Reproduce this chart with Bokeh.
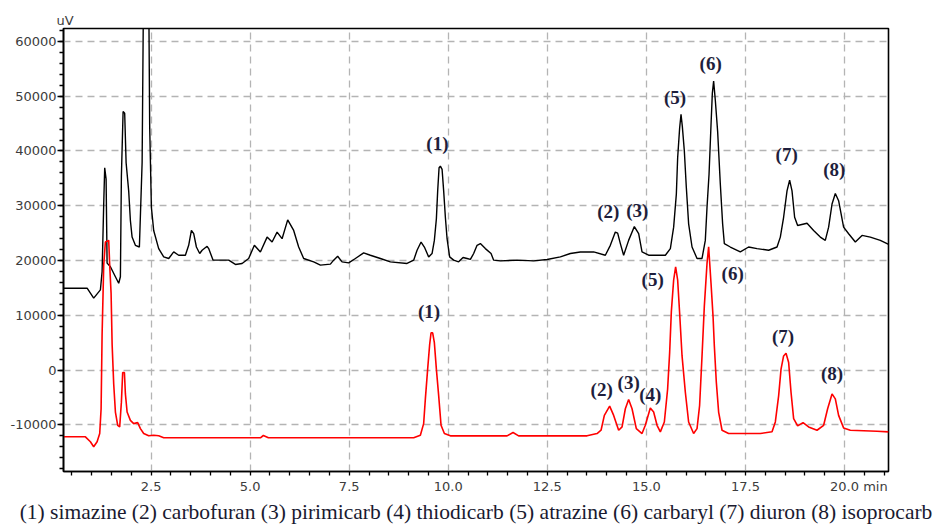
import numpy as np
from bokeh.plotting import figure
from bokeh.models import (Range1d, SingleIntervalTicker, FixedTicker, PrintfTickFormatter,
                          Title, ColumnDataSource)
from bokeh.core.properties import value
from bokeh.embed import file_html
from bokeh.resources import INLINE

# ---------------- data (retention time in min, signal in uV) ----------------
black_time = [
    0.30, 0.886, 1.052, 1.221, 1.264, 1.305, 1.330, 1.365, 1.390, 1.474,
    1.600, 1.683, 1.726, 1.751, 1.794, 1.834, 1.870, 1.935, 1.978, 2.021,
    2.104, 2.205, 2.274, 2.31, 2.38, 2.44, 2.465, 2.508, 2.566, 2.692,
    2.819, 2.945, 3.071, 3.197, 3.366, 3.449, 3.518, 3.576, 3.644, 3.727,
    3.788, 3.914, 3.954, 4.065, 4.206, 4.459, 4.628, 4.797, 4.963, 5.107,
    5.259, 5.428, 5.554, 5.680, 5.806, 5.948, 6.099, 6.225, 6.351, 6.604,
    6.773, 7.025, 7.108, 7.209, 7.320, 7.487, 7.656, 7.865, 8.034, 8.287,
    8.539, 8.960, 9.127, 9.213, 9.314, 9.397, 9.505, 9.591, 9.649, 9.700,
    9.733, 9.768, 9.801, 9.844, 9.884, 9.927, 9.970, 10.035, 10.136, 10.262,
    10.373, 10.474, 10.558, 10.641, 10.727, 10.810, 10.936, 11.080, 11.146, 11.315,
    11.736, 12.155, 12.493, 12.829, 13.081, 13.333, 13.669, 13.964, 14.090, 14.216,
    14.275, 14.343, 14.426, 14.552, 14.696, 14.805, 14.890, 15.057, 15.269, 15.479,
    15.605, 15.688, 15.756, 15.789, 15.839, 15.874, 15.907, 15.958, 16.008, 16.066,
    16.152, 16.278, 16.404, 16.487, 16.530, 16.581, 16.631, 16.664, 16.697, 16.739,
    16.798, 16.866, 16.924, 16.967, 17.118, 17.370, 17.580, 17.792, 18.085, 18.297,
    18.380, 18.463, 18.549, 18.615, 18.675, 18.741, 18.817, 19.054, 19.220, 19.389,
    19.515, 19.599, 19.685, 19.768, 19.851, 19.977, 20.104, 20.273, 20.442, 20.651,
    20.903, 21.113,
]
black_uv = [
    14950, 14950, 13140, 14650, 17950, 30370, 36940, 34890, 19530, 18860,
    17050, 15860, 17050, 35440, 47190, 46880, 37840, 32720, 27300, 24280,
    22780, 22470, 37840, 70000, 80000, 70000, 44480, 29700, 25490, 22180,
    20670, 20380, 21570, 20970, 20970, 22780, 25490, 24900, 22470, 21280,
    21880, 22600, 22180, 20070, 20070, 20070, 19290, 19470, 20380, 22780,
    21570, 24280, 23380, 25190, 23990, 27430, 25490, 22470, 20380, 19760,
    19160, 19350, 20070, 20790, 19760, 19580, 20380, 21390, 20970, 20380,
    19760, 19470, 20070, 21880, 23380, 22470, 20670, 21280, 23680, 27610,
    32720, 36940, 37240, 36650, 32720, 27900, 23990, 20670, 20070, 19760,
    20560, 20380, 20200, 21280, 22780, 23090, 22180, 21280, 20070, 19940,
    20070, 19940, 20200, 20670, 21280, 21570, 21570, 20970, 22780, 25190,
    25000, 23090, 20970, 23680, 26210, 24900, 21570, 20970, 20970, 20970,
    22180, 26090, 32130, 38750, 44170, 46700, 44480, 39960, 33320, 26700,
    22470, 20380, 20380, 23680, 29700, 35740, 44780, 50500, 52740, 49300,
    43570, 33940, 26700, 23090, 22470, 21570, 22470, 22180, 21880, 22470,
    24280, 27900, 32720, 34660, 32720, 27900, 26400, 26810, 25490, 24280,
    23680, 26090, 30320, 32240, 30920, 26090, 24900, 23380, 24590, 24280,
    23680, 22960,
]

red_time = [
    0.30, 0.843, 0.969, 1.052, 1.138, 1.204, 1.239, 1.264, 1.305, 1.347,
    1.431, 1.456, 1.491, 1.517, 1.557, 1.600, 1.658, 1.708, 1.751, 1.784,
    1.827, 1.852, 1.895, 1.978, 2.062, 2.162, 2.231, 2.314, 2.440, 2.566,
    2.692, 2.819, 5.259, 5.334, 5.461, 9.127, 9.296, 9.379, 9.422, 9.480,
    9.531, 9.566, 9.606, 9.649, 9.700, 9.758, 9.818, 9.902, 10.053, 11.484,
    11.635, 11.776, 13.503, 13.755, 13.856, 13.939, 14.073, 14.174, 14.300, 14.386,
    14.469, 14.552, 14.638, 14.746, 14.890, 14.973, 15.099, 15.183, 15.269, 15.352,
    15.453, 15.536, 15.587, 15.630, 15.688, 15.738, 15.789, 15.839, 15.900, 15.983,
    16.066, 16.192, 16.278, 16.343, 16.404, 16.462, 16.530, 16.571, 16.631, 16.682,
    16.715, 16.765, 16.823, 16.909, 17.075, 17.876, 18.171, 18.254, 18.338, 18.398,
    18.463, 18.524, 18.590, 18.650, 18.716, 18.817, 18.953, 19.094, 19.306, 19.473,
    19.574, 19.685, 19.768, 19.851, 19.977, 20.146, 20.820, 21.113,
]
red_uv = [
    -12170, -12170, -13070, -13980, -13070, -11570, -7050, 6510, 19160, 23380,
    23680, 19160, 14050, 4700, -2530, -7650, -10070, -10360, -5840, -420,
    -420, -4340, -7650, -9170, -9760, -9580, -10670, -11570, -11990, -11880,
    -11990, -12350, -12350, -11930, -12350, -12350, -11880, -9760, -5240, 180,
    4700, 6820, 6820, 5010, 180, -4650, -10070, -11570, -11990, -11990,
    -11390, -11990, -11990, -11570, -10970, -8260, -6560, -8260, -10970, -10360,
    -7050, -5370, -7050, -10670, -11570, -10070, -6920, -7650, -10070, -11260,
    -9460, -3440, 3200, 10720, 16450, 18860, 16450, 10430, 2590, -4030,
    -9460, -11570, -10670, -6450, 2590, 11630, 19470, 22510, 15860, 9820,
    4390, -2220, -7650, -10970, -11570, -11570, -11260, -9460, -4650, 180,
    2590, 3070, 1390, -4030, -8860, -10180, -9580, -10360, -10970, -10070,
    -7050, -4340, -5240, -8260, -10540, -10970, -11160, -11260,
]

black_peak_ids = ["(1)", "(2)", "(3)", "(5)", "(6)", "(7)", "(8)"]
black_peak_rt = [9.80, 14.22, 14.70, 15.87, 16.70, 18.62, 19.77]
red_peak_ids = ["(1)", "(2)", "(3)", "(4)", "(5)", "(6)", "(7)", "(8)"]
red_peak_rt = [9.59, 14.07, 14.55, 15.10, 15.74, 16.57, 18.52, 19.69]

caption = ("(1) simazine (2) carbofuran (3) pirimicarb (4) thiodicarb "
           "(5) atrazine (6) carbaryl (7) diuron (8) isoprocarb")
x_unit = "min"
y_unit = "uV"
x_major_ticks = [2.5, 5.0, 7.5, 10.0, 12.5, 15.0, 17.5, 20.0]

assert len(black_time) == len(black_uv)
assert len(red_time) == len(red_uv)

# ---------------- label offsets (pixels; style only) ----------------
black_dx = [-3, -7, 3, -6, -3, -3, -1]
black_dy = [-23, -21, -16, -17, -18, -26, -24]
red_dx = [-2, -8, 0, 0, -23, 24, -3, 0]
red_dy = [-21, -17, -17, -14, 13, 27, -17, -20]
UNIT_X_POS = 20.78   # where the "min" unit text sits on the time axis


def peak_positions(times, vals, rts):
    t = np.asarray(times)
    v = np.asarray(vals)
    xs, ys = [], []
    for rt in rts:
        idx = np.where(np.abs(t - rt) <= 0.12)[0]
        i = idx[np.argmax(v[idx])]
        xs.append(float(t[i]))
        ys.append(float(v[i]))
    return xs, ys


p = figure(width=940, height=526, output_backend="svg", toolbar_location=None,
           x_range=Range1d(0.29, 21.11), y_range=Range1d(-18500, 62350),
           min_border_left=63, min_border_right=52, min_border_top=28,
           min_border_bottom=54)
p.background_fill_color = "white"
p.border_fill_color = "white"
p.outline_line_color = "black"
p.outline_line_width = 1.6

TICK_COLOR = "#3c3c3c"

# x axis: major labels plus the unit text "min"; caption as axis label
minor_x = [round(0.5 * k, 2) for k in range(1, 43)]
p.xaxis.ticker = FixedTicker(ticks=x_major_ticks + [UNIT_X_POS], minor_ticks=minor_x)
p.xaxis.formatter = PrintfTickFormatter(format="%.1f")
p.xaxis.major_label_overrides = {UNIT_X_POS: x_unit}
p.xaxis.major_tick_out = 0
p.xaxis.major_tick_in = 0
p.xaxis.minor_tick_out = 4
p.xaxis.minor_tick_in = 0
p.xaxis.major_label_standoff = 3
p.xaxis.axis_line_color = "black"
p.xaxis.axis_line_width = 1.6
p.xaxis.minor_tick_line_color = "black"
p.xaxis.minor_tick_line_width = 1.3
p.xaxis.axis_label = caption
p.xaxis.axis_label_standoff = 3
p.xaxis.axis_label_text_font = "Liberation Serif"
p.xaxis.axis_label_text_font_size = "21.5px"
p.xaxis.axis_label_text_font_style = "normal"
p.xaxis.axis_label_text_color = "#1a1a30"

p.yaxis.ticker = SingleIntervalTicker(interval=10000, num_minor_ticks=5)
p.yaxis.formatter = PrintfTickFormatter(format="%d")
p.yaxis.major_tick_out = 6
p.yaxis.major_tick_in = 0
p.yaxis.minor_tick_out = 4
p.yaxis.minor_tick_in = 0
p.yaxis.major_label_standoff = 1
p.yaxis.axis_line_color = "black"
p.yaxis.axis_line_width = 1.6
p.yaxis.major_tick_line_color = "black"
p.yaxis.major_tick_line_width = 1.3
p.yaxis.minor_tick_line_color = "black"
p.yaxis.minor_tick_line_width = 1.3

for ax in (p.xaxis, p.yaxis):
    ax.major_label_text_font = "DejaVu Sans"
    ax.major_label_text_font_size = "13px"
    ax.major_label_text_color = TICK_COLOR

# grid
p.xgrid.ticker = SingleIntervalTicker(interval=2.5)
for g in (p.xgrid, p.ygrid):
    g.grid_line_color = "#b4b4b4"
    g.grid_line_width = 1.3
    g.grid_line_dash = "7 5"

# traces
p.line(black_time, black_uv, line_color="black", line_width=1.4)
p.line(red_time, red_uv, line_color="#ff0000", line_width=1.6)

# peak labels
bx, by = peak_positions(black_time, black_uv, black_peak_rt)
rx, ry = peak_positions(red_time, red_uv, red_peak_rt)
lab_src = ColumnDataSource(dict(
    x=bx + rx, y=by + ry, text=black_peak_ids + red_peak_ids,
    dx=black_dx + red_dx, dy=black_dy + red_dy))
p.text(x="x", y="y", text="text", source=lab_src, x_offset="dx", y_offset="dy",
       text_font=value("Liberation Serif"), text_font_style="bold",
       text_font_size="19px", text_color="#1e1e3c",
       text_align="center", text_baseline="middle")

# unit of y axis, above the axis
p.add_layout(Title(text=y_unit, align="left", offset=-7, standoff=1,
                   text_font="DejaVu Sans", text_font_size="13px",
                   text_font_style="normal", text_color=TICK_COLOR), "above")

open("out.html", "w").write(file_html(p, INLINE))
